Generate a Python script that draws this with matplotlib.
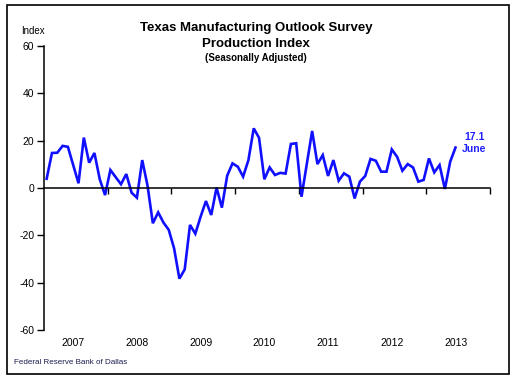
import numpy as np
import matplotlib
matplotlib.use("Agg")
import matplotlib.pyplot as plt
import matplotlib.transforms as mtransforms
from matplotlib.patches import Rectangle

# 德州制造业展望调查 生产指数（月度，2007.01 - 2013.06）
years = [2007, 2008, 2009, 2010, 2011, 2012, 2013]
v2007 = [3.9, 14.8, 14.9, 17.8, 17.4, 9.7, 2.0, 21.3, 10.7, 14.8, 3.7, -3.0]
v2008 = [7.6, 4.6, 1.6, 5.9, -2.0, -4.1, 11.8, 1.0, -14.9, -10.3, -14.6, -17.7]
v2009 = [-25.5, -38.3, -34.4, -15.6, -19.3, -12.1, -5.5, -11.4, 0.2, -8.3, 5.2, 10.4]
v2010 = [9.0, 4.8, 11.8, 25.2, 21.2, 3.7, 8.7, 5.5, 6.4, 6.1, 18.6, 18.9]
v2011 = [-3.7, 10.2, 24.1, 10.1, 13.9, 5.1, 11.8, 3.1, 6.2, 4.8, -4.4, 2.7]
v2012 = [5.1, 12.3, 11.5, 6.9, 6.9, 16.3, 13.2, 7.3, 10.1, 8.7, 2.7, 3.4]
v2013 = [12.5, 6.6, 9.7, -0.4, 11.1, 17.1]
y_ticks = [-60, -40, -20, 0, 20, 40, 60]
last_label = "17.1\nJune"

values = np.array(v2007 + v2008 + v2009 + v2010 + v2011 + v2012 + v2013)
# 每个月放在该月的中间位置
months = years[0] + (np.arange(len(values)) + 0.5) / 12.0

plt.rcParams['font.family'] = ['Liberation Sans', 'DejaVu Sans']
plt.rcParams['axes.unicode_minus'] = False

fig = plt.figure(figsize=(5.17, 3.84), dpi=100)
ax = fig.add_axes([0.0851, 0.1406, 0.8627, 0.7396])

ax.plot(months, values, color='#1010ff', linewidth=1.9, solid_joinstyle='miter')

ax.set_xlim(years[0], years[-1] + 1)
ax.set_ylim(y_ticks[0], y_ticks[-1])

# 坐标轴样式
ax.spines['top'].set_visible(False)
ax.spines['right'].set_visible(False)
ax.spines['bottom'].set_position(('data', 0))
for s in ['left', 'bottom']:
    ax.spines[s].set_linewidth(1.1)

ax.set_yticks(y_ticks)
ax.tick_params(axis='y', direction='out', length=5, width=1, pad=2, labelsize=7.5)
ax.set_xticks(list(range(years[0] + 1, years[-1] + 2)))
ax.tick_params(axis='x', direction='out', length=4, width=1, labelbottom=False)

# 年份标签放在两个刻度之间，位于图底部
trans = mtransforms.blended_transform_factory(ax.transData, ax.transAxes)
for yr in years:
    ax.text(yr + 0.46, -0.045, str(yr), transform=trans, ha='center', va='center',
            fontsize=7.5)

# 最后一个数据点的标注
ax.annotate(last_label, xy=(months[-1], values[-1]), xytext=(13.5, 3.5),
            textcoords='offset points', ha='center', va='center',
            fontsize=7.5, fontweight='bold', color='#2020ff', linespacing=1.25,
            annotation_clip=False)

# 标题和其他文字
fig.text(0.495, 1 - 27.7 / 384, "Texas Manufacturing Outlook Survey", ha='center',
         va='center', fontsize=9.5, fontweight='bold')
fig.text(0.495, 1 - 43.7 / 384, "Production Index", ha='center', va='center',
         fontsize=9.5, fontweight='bold')
fig.text(0.495, 1 - 57.7 / 384, "(Seasonally Adjusted)", ha='center', va='center',
         fontsize=7, fontweight='bold')
fig.text(33 / 517, 1 - 31.5 / 384, "Index", ha='center', va='center', fontsize=7)
fig.text(14 / 517, 1 - 362.5 / 384, "Federal Reserve Bank of Dallas", ha='left',
         va='center', fontsize=5.8, color='#1c1c50')

# 外框
fig.patches.append(Rectangle((7 / 517, 1 - 374 / 384), 502 / 517, 369 / 384,
                             transform=fig.transFigure, fill=False,
                             edgecolor='black', linewidth=1.2))

fig.savefig('out.png', dpi=100)
